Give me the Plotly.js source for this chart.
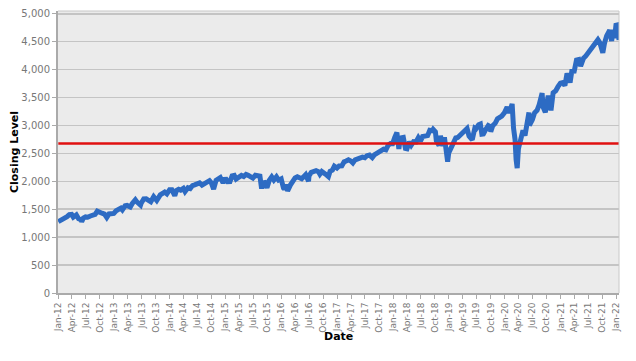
<!DOCTYPE html>
<html><head><meta charset="utf-8">
<script src="https://cdn.plot.ly/plotly-3.0.1.min.js"></script>
<style>html,body{margin:0;padding:0;background:#fff}#c{width:636px;height:361px}</style>
</head><body><div id="c"></div>
<script>
var dates = [
"2012-01-03","2012-01-13","2012-01-31","2012-02-15","2012-02-29","2012-03-15","2012-03-30","2012-04-10","2012-04-30","2012-05-15","2012-05-31","2012-06-04","2012-06-15","2012-06-29","2012-07-13","2012-07-31","2012-08-15","2012-08-31","2012-09-14","2012-09-28","2012-10-15","2012-10-31","2012-11-15","2012-11-30","2012-12-14","2012-12-31",
"2013-01-15","2013-01-31","2013-02-15","2013-02-25","2013-03-15","2013-03-28","2013-04-18","2013-04-30","2013-05-21","2013-05-31","2013-06-24","2013-06-28","2013-07-15","2013-07-31","2013-08-15","2013-08-30","2013-09-18","2013-09-30","2013-10-08","2013-10-31","2013-11-15","2013-11-29","2013-12-13","2013-12-31",
"2014-01-15","2014-02-03","2014-02-14","2014-02-28","2014-03-14","2014-03-31","2014-04-11","2014-04-30","2014-05-15","2014-05-30","2014-06-13","2014-06-30","2014-07-15","2014-07-31","2014-08-15","2014-08-29","2014-09-18","2014-09-30","2014-10-15","2014-10-31","2014-11-14","2014-11-28","2014-12-16","2014-12-31",
"2015-01-15","2015-01-30","2015-02-13","2015-02-27","2015-03-11","2015-03-31","2015-04-15","2015-04-30","2015-05-15","2015-05-29","2015-06-15","2015-06-29","2015-07-15","2015-07-31","2015-08-14","2015-08-25","2015-08-31","2015-09-15","2015-09-29","2015-10-15","2015-10-30","2015-11-13","2015-11-30","2015-12-14","2015-12-31",
"2016-01-15","2016-01-20","2016-02-01","2016-02-11","2016-02-29","2016-03-15","2016-03-31","2016-04-15","2016-04-29","2016-05-13","2016-05-31","2016-06-08","2016-06-27","2016-06-30","2016-07-15","2016-07-29","2016-08-15","2016-08-31","2016-09-09","2016-09-22","2016-09-30","2016-10-14","2016-11-04","2016-11-15","2016-11-30","2016-12-13","2016-12-30",
"2017-01-13","2017-01-31","2017-02-15","2017-02-28","2017-03-15","2017-03-31","2017-04-13","2017-04-28","2017-05-15","2017-05-31","2017-06-15","2017-06-30","2017-07-14","2017-07-31","2017-08-18","2017-08-31","2017-09-15","2017-09-29","2017-10-13","2017-10-31","2017-11-15","2017-11-30","2017-12-15","2017-12-29",
"2018-01-12","2018-01-26","2018-02-08","2018-02-15","2018-02-26","2018-03-09","2018-03-23","2018-04-02","2018-04-18","2018-04-30","2018-05-15","2018-05-31","2018-06-15","2018-06-29","2018-07-13","2018-07-31","2018-08-15","2018-08-29","2018-09-14","2018-09-20","2018-10-05","2018-10-11","2018-10-29","2018-11-07","2018-11-23","2018-12-03","2018-12-14","2018-12-24","2018-12-31",
"2019-01-15","2019-01-31","2019-02-15","2019-02-28","2019-03-15","2019-03-29","2019-04-15","2019-04-30","2019-05-13","2019-05-31","2019-06-03","2019-06-20","2019-06-28","2019-07-15","2019-07-26","2019-08-05","2019-08-15","2019-08-30","2019-09-16","2019-09-30","2019-10-02","2019-10-15","2019-10-31","2019-11-15","2019-11-29","2019-12-13","2019-12-31",
"2020-01-17","2020-01-31","2020-02-19","2020-02-28","2020-03-09","2020-03-16","2020-03-23","2020-03-31","2020-04-15","2020-04-30","2020-05-13","2020-05-29","2020-06-08","2020-06-11","2020-06-30","2020-07-15","2020-07-31","2020-08-14","2020-09-02","2020-09-08","2020-09-23","2020-10-12","2020-10-30","2020-11-13","2020-11-30","2020-12-15","2020-12-31",
"2021-01-15","2021-01-29","2021-02-12","2021-03-04","2021-03-15","2021-03-31","2021-04-15","2021-04-30","2021-05-12","2021-05-31","2021-06-15","2021-06-30","2021-07-15","2021-07-30","2021-08-16","2021-08-31","2021-09-02","2021-09-15","2021-09-30","2021-10-04","2021-10-15","2021-10-29","2021-11-18","2021-11-30","2021-12-01","2021-12-10","2021-12-20","2021-12-29",
"2022-01-03","2022-01-05","2022-01-10","2022-01-14","2022-01-18"
];
var closes = [
1277,1289,1312,1344,1366,1403,1408,1358,1398,1330,1310,1278,1342,1362,1356,1379,1405,1407,1465,1441,1429,1412,1353,1416,1413,1426,
1472,1498,1519,1488,1561,1569,1541,1598,1669,1631,1573,1606,1683,1686,1662,1633,1725,1682,1656,1757,1798,1806,1775,1848,
1848,1742,1838,1859,1841,1872,1815,1884,1870,1924,1937,1960,1973,1931,1955,2003,2011,1972,1862,2018,2039,2068,1973,2059,
1993,1995,2097,2105,2040,2068,2106,2086,2123,2107,2084,2058,2108,2104,2092,1868,1972,1979,1884,2023,2079,2023,2080,2021,2044,
1880,1859,1940,1829,1932,2015,2060,2081,2065,2047,2097,2119,2001,2099,2162,2174,2190,2171,2128,2177,2168,2133,2085,2180,2199,2271,2239,
2275,2279,2349,2364,2385,2363,2329,2384,2402,2412,2433,2423,2459,2470,2425,2472,2500,2519,2553,2575,2565,2648,2676,2674,
2786,2873,2581,2732,2780,2786,2588,2582,2708,2648,2711,2705,2780,2718,2801,2816,2818,2914,2905,2931,2885,2728,2641,2814,2633,2790,2600,2351,2507,
2610,2704,2776,2784,2822,2834,2907,2946,2812,2752,2744,2954,2942,3014,3026,2845,2848,2926,2998,2977,2887,2996,3038,3120,3141,3169,3231,
3330,3226,3386,2954,2747,2386,2237,2585,2783,2912,2820,3044,3232,3002,3100,3227,3271,3373,3580,3332,3237,3535,3270,3585,3622,3695,3756,
3768,3714,3934,3768,3969,3973,4170,4181,4063,4204,4246,4298,4360,4395,4479,4523,4537,4481,4308,4300,4471,4605,4704,4567,4513,4712,4568,4793,
4796,4700,4670,4663,4532
];
var refLevel = 2675;
var xTitle = "Date";
var yTitle = "Closing Level";

var font = "DejaVu Sans, Verdana, sans-serif";
var traces = [
  {x: dates, y: closes, type: "scatter", mode: "lines",
   line: {color: "#2d6bc3", width: 5}, hoverinfo: "skip"},
  {x: [dates[0], dates[dates.length-1]], y: [refLevel, refLevel], type: "scatter", mode: "lines",
   line: {color: "#e01010", width: 2.5}, hoverinfo: "skip"}
];
var layout = {
  width: 636, height: 361,
  margin: {l: 58, r: 17, t: 11, b: 68},
  paper_bgcolor: "#ffffff", plot_bgcolor: "#ebebeb",
  showlegend: false,
  font: {family: font, size: 10, color: "#777"},
  xaxis: {
    type: "date", range: ["2012-01-01", "2022-01-18"],
    dtick: "M3", tick0: "2012-01-01", tickformat: "%b-%y", tickangle: -90,
    ticks: "outside", ticklen: 4, tickcolor: "#aaa",
    showgrid: false, showline: true, linecolor: "#aaa", linewidth: 2, mirror: false,
    tickfont: {family: font, size: 9, color: "#777"},
    zeroline: false
  },
  yaxis: {
    range: [0, 5050], dtick: 500, tickformat: ",d",
    ticks: "outside", ticklen: 4, tickcolor: "#aaa",
    showgrid: true, gridcolor: "#c4c4c4", gridwidth: 1.5,
    showline: true, linecolor: "#aaa", linewidth: 2,
    tickfont: {family: font, size: 10, color: "#777"},
    title: {text: yTitle, font: {family: font, size: 11, color: "#000", weight: "bold"}, standoff: 0},
    zeroline: false
  },
  annotations: [
    {text: "<b>" + xTitle + "</b>", xref: "paper", yref: "paper", x: 0.5, y: -0.156,
     xanchor: "center", yanchor: "middle", showarrow: false,
     font: {family: font, size: 11, color: "#000"}}
  ],
  shapes: [
    {type: "line", xref: "paper", yref: "paper", x0: 0, x1: 1, y0: 1, y1: 1, line: {color: "#c8c8c8", width: 1}},
    {type: "line", xref: "paper", yref: "paper", x0: 1, x1: 1, y0: 0, y1: 1, line: {color: "#c8c8c8", width: 1}}
  ]
};
Plotly.newPlot("c", traces, layout, {displayModeBar: false, staticPlot: true});
</script>
</body></html>
